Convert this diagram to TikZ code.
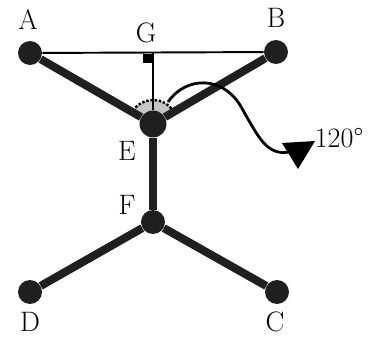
\documentclass[tikz,border=0pt]{standalone}
\usepackage{tikz}
\usetikzlibrary{arrows.meta,positioning,calc}

\begin{document}
\begin{tikzpicture}[
  x=0.02cm, y=-0.02cm,
  dot/.style={circle, fill=black!88, inner sep=0pt, minimum size=0.48cm},
  lab/.style={font=\fontsize{16}{18}\selectfont},
  rod/.style={line width=4.6pt, black!88},
  wire/.style={line width=1.1pt}
]
\useasboundingbox (0,0) rectangle (373,338);
\coordinate (centre) at (153,124);
% the 120 degree sector at E
\fill[gray!45] (centre) -- ++(30:0.48cm) arc[start angle=30, end angle=150, radius=0.48cm] -- cycle;
\draw[densely dotted, line width=1.4pt] ($(centre)+(30:0.48cm)$) arc[start angle=30, end angle=150, radius=0.48cm];
\foreach \n/\x/\y in {A/30/53,B/276/52,F/153/222,D/30/292,C/277/292} {
  \node[dot] (\n) at (\x,\y) {};
}
\node[dot, minimum size=0.54cm] (E) at (centre) {};
\coordinate (G) at (153,52);
\draw[wire] (A) -- (B);
\draw[wire] (G) -- (E);
\fill (G) ++(-10,2) rectangle ++(9.5,9.5);
\draw[rod] (A) -- (E);
\draw[rod] (B) -- (E);
\draw[rod] (E) -- (F);
\draw[rod] (F) -- (D);
\draw[rod] (F) -- (C);
% turning arrow
\coordinate (s) at (168,102);
\coordinate (t) at (289,152);
\draw[line width=1.6pt] (s) .. controls (186,76) and (222,76) .. (240,105) .. controls (258,136) and (266,156) .. (t);
\fill (282,143) -- (315,141) -- (298,169) -- cycle;
\node[lab] (la) at (28,20) {A};
\node[lab] (lb) at (276,18) {B};
\node[lab] (lg) at (146,33) {G};
\node[lab] (le) at (127,151) {E};
\node[lab] (lf) at (127,205) {F};
\node[lab] (ld) at (30,322) {D};
\node[lab] (lc) at (275,322) {C};
\node[lab] (ang) at (339,138) {120\textdegree};
\end{tikzpicture}
\end{document}
